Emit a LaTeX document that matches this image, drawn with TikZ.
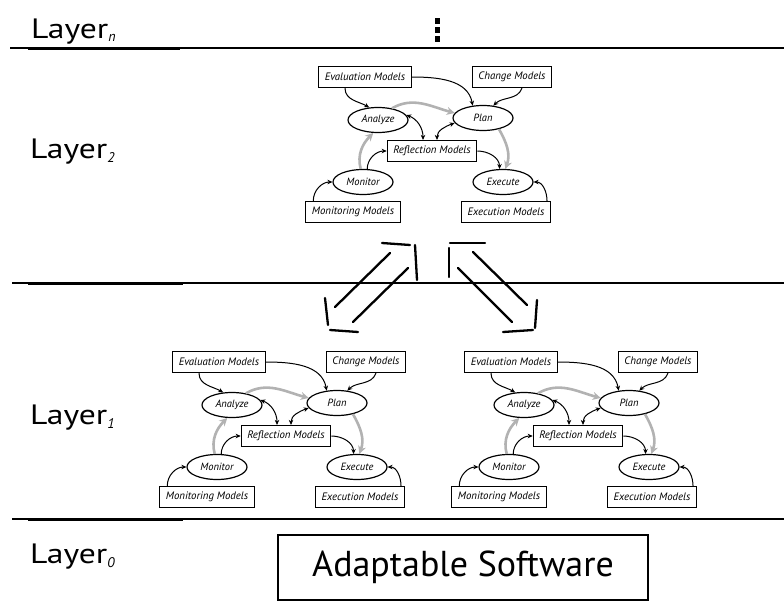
\documentclass[tikz,border=0pt]{standalone}
\usepackage{fontspec}
\setmainfont{PT Sans}
\usetikzlibrary{shapes.geometric,arrows.meta}

\definecolor{loopgray}{RGB}{178,178,178}

\newcommand\layersub[1]{\raisebox{-4pt}{\fontsize{14}{14}\selectfont\itshape #1}}
\newcommand\layername[1]{\scalebox{1.2}[1]{Layer}\layersub{#1}}

\tikzset{
  mbox/.style={draw, line width=1.2pt, inner xsep=6pt, inner ysep=0pt,
    minimum height=21pt, font=\fontsize{10.8}{12}\selectfont\itshape},
  phase/.style={draw, ellipse, line width=1.2pt, minimum width=60pt,
    minimum height=25pt, inner sep=0pt, font=\fontsize{10.5}{12}\selectfont\itshape},
  blk/.style={-{Stealth[length=5pt,width=4.5pt]}, line width=1pt},
  blkboth/.style={{Stealth[length=5pt,width=4.5pt]}-{Stealth[length=5pt,width=4.5pt]}, line width=1pt},
  gry/.style={-{Stealth[length=8pt,width=8pt]}, line width=2.6pt, draw=loopgray},
  layerline/.style={line width=1.5pt},
  layerextra/.style={line width=0.9pt},
  layerlbl/.style={anchor=base west, inner sep=0pt, font=\fontsize{28}{32}\selectfont},
  between/.style={line width=2.3pt, line cap=round},
  % one MAPE-K feedback loop, origin at the centre of Reflection Models
  mapek/.pic={
    \node[mbox]  (-refl)    at (0,0)      {Reflection Models};
    \node[mbox]  (-eval)    at (-67,-74)  {Evaluation Models};
    \node[mbox]  (-change)  at (80,-74)   {Change Models};
    \node[phase] (-analyze) at (-54,-31)  {Analyze};
    \node[phase] (-plan)    at (51,-33)   {Plan};
    \node[phase] (-monitor) at (-69,31)   {Monitor};
    \node[phase] (-execute) at (71,31)    {Execute};
    \node[mbox]  (-monmod)  at (-79,61)   {Monitoring Models};
    \node[mbox]  (-exemod)  at (74,61)    {Execution Models};
    % loop flow
    \draw[gry] (-monitor.100) to[out=105,in=-135] (-analyze.-110);
    \draw[gry] (-analyze.40) to[out=30,in=165] (-plan.170);
    \draw[gry] (-plan.-35) to[out=-60,in=70] (-execute.80);
    % knowledge access
    \draw[blk] ([xshift=-20pt]-eval.south) to[out=-90,in=150] (-analyze.125);
    \draw[blk] (-eval.east) to[out=0,in=100] (-plan.130);
    \draw[blk] ([xshift=10pt]-change.south) to[out=-110,in=45] (-plan.50);
    \draw[blkboth] (-analyze.10) to[out=-20,in=90] ([xshift=-9pt]-refl.north);
    \draw[blkboth] (-plan.190) to[out=200,in=90] ([xshift=5pt]-refl.north);
    \draw[blk] (-monitor.72) to[out=90,in=180] (-refl.west);
    \draw[blk] (-refl.east) to[out=0,in=90] (-execute.105);
    \draw[blk] ([xshift=8pt]-monmod.north west) to[out=90,in=180] (-monitor.west);
    \draw[blk] ([xshift=-4pt]-exemod.north east) to[out=90,in=0] (-execute.east);
  }
}

\begin{document}
\begin{tikzpicture}[x=1pt,y=-1pt]
\useasboundingbox (0,0) rectangle (784,602);

% layer separators
\draw[layerline] (10,48) -- (784,48);
\draw[layerextra] (28,49.5) -- (180,49.5);
\draw[layerline] (12,283) -- (784,283);
\draw[layerextra] (28,284.5) -- (183,284.5);
\draw[layerline] (12,519) -- (784,519);
\draw[layerextra] (28,520.5) -- (183,520.5);

% layer names
\node[layerlbl] (ln) at (31,38)  {\layername{n}};
\node[layerlbl] (l2) at (30,158) {\layername{2}};
\node[layerlbl] (l1) at (30,424) {\layername{1}};
\node[layerlbl] (l0) at (30,563) {\layername{0}};

% vertical ellipsis
\fill (435,18) rectangle (440,24);
\fill (435,27) rectangle (440,33);
\fill (435,36) rectangle (440,42);

% feedback loops
\pic (top)   at (432,151) {mapek};
\pic (left)  at (286,436) {mapek};
\pic (right) at (578,436) {mapek};

% managed system
\node[draw, line width=1.8pt, minimum width=370pt, minimum height=65pt,
      font=\fontsize{36}{40}\selectfont] (sw) at (463,567.5) {Adaptable Software};
\draw[line width=1.4pt] ([xshift=20pt,yshift=-1.5pt]sw.north west) -- ([xshift=-135pt,yshift=-1.5pt]sw.north east);

% two-way links between layer 2 and layer 1
\coordinate (lhi) at (416,243);
\coordinate (llo) at (326,332);
\draw[between] ([shift={(-34,0)}]lhi) -- ([shift={(-6,2)}]lhi);
\draw[between] ([shift={(-1,2)}]lhi) -- ([shift={(1,37)}]lhi);
\draw[between] ([shift={(-1,-34)}]llo) -- ([shift={(2,-7)}]llo);
\draw[between] ([shift={(4,-2)}]llo) -- ([shift={(32,0)}]llo);
\draw[between] ([shift={(-26,10)}]lhi) -- ([shift={(9,-25)}]llo);
\draw[between] ([shift={(-8,25)}]lhi) -- ([shift={(27,-10)}]llo);

\coordinate (rhi) at (449,242);
\coordinate (rlo) at (537,332);
\draw[between] ([shift={(1,1)}]rhi) -- ([shift={(36,1)}]rhi);
\draw[between] ([shift={(0,6)}]rhi) -- ([shift={(0,35)}]rhi);
\draw[between] ([shift={(0,-32)}]rlo) -- ([shift={(-2,-4)}]rlo);
\draw[between] ([shift={(-34,0)}]rlo) -- ([shift={(-4,-2)}]rlo);
\draw[between] ([shift={(24,10)}]rhi) -- ([shift={(-10,-27)}]rlo);
\draw[between] ([shift={(9,26)}]rhi) -- ([shift={(-25,-10)}]rlo);
\end{tikzpicture}
\end{document}
